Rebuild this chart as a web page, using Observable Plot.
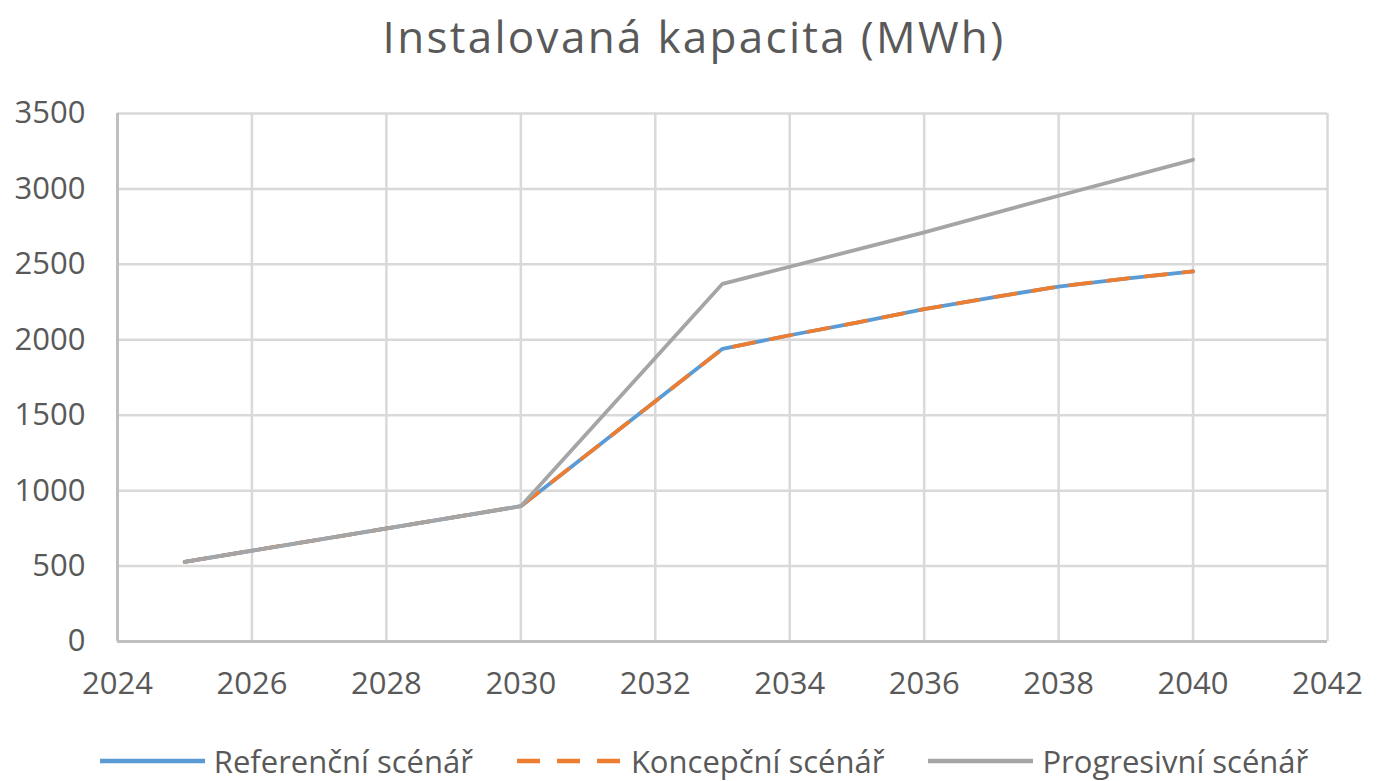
<!DOCTYPE html>
<html>
<head>
<meta charset="utf-8">
<script src="https://cdn.jsdelivr.net/npm/d3@7"></script>
<script src="https://cdn.jsdelivr.net/npm/@observablehq/plot@0.6"></script>
<style>
  body { margin: 0; background: #fff; font-family: "Open Sans", sans-serif; }
  #wrap { width: 1378px; height: 781px; overflow: hidden; position: relative; }
  #title { height: 72px; line-height: 72px; text-align: center; font-size: 44px; letter-spacing: 2.3px; color: #595959; padding-left: 10px; }
  #legend { display: flex; justify-content: center; align-items: center; gap: 0; height: 78px; padding-left: 30px; box-sizing: border-box; padding-top: 38px; }
  .item { display: flex; align-items: center; margin: 0 22px; }
  .item span { font-size: 31px; color: #595959; margin-left: 9px; line-height: 34px; }
</style>
</head>
<body>
<div id="wrap">
  <div id="title">Instalovaná kapacita (MWh)</div>
  <div id="chart"></div>
  <div id="legend"></div>
</div>
<script>
const yearsRef = [2025, 2030, 2033, 2034, 2035, 2036, 2037, 2038, 2039, 2040];
const referencni = [528, 897, 1940, 2030, 2114, 2203, 2280, 2353, 2406, 2453];
const koncepcni = [528, 897, 1940, 2030, 2114, 2203, 2280, 2353, 2406, 2453];
const yearsPro = [2025, 2030, 2033, 2034, 2036, 2038, 2040];
const progresivni = [528, 897, 2371, 2484, 2712, 2955, 3193];
const seriesNames = ["Referenční scénář", "Koncepční scénář", "Progresivní scénář"];
const seriesColors = ["#5B9BD5", "#ED7D31", "#A5A5A5"];
const xTicks = [2024, 2026, 2028, 2030, 2032, 2034, 2036, 2038, 2040, 2042];
const yTicks = [0, 500, 1000, 1500, 2000, 2500, 3000, 3500];

const toRows = (yrs, vals, name) => yrs.map((y, i) => ({year: y, value: vals[i], series: name}));
const refRows = toRows(yearsRef, referencni, seriesNames[0]);
const konRows = toRows(yearsRef, koncepcni, seriesNames[1]);
const proRows = toRows(yearsPro, progresivni, seriesNames[2]);

const chart = Plot.plot({
  width: 1378,
  height: 631,
  marginTop: 41,
  marginBottom: 62,
  marginLeft: 117,
  marginRight: 51,
  style: { fontFamily: "Open Sans, sans-serif", fontSize: "31px", color: "#595959", background: "#fff" },
  x: { domain: [2024, 2042], ticks: xTicks, tickFormat: d => String(d), label: null },
  y: { domain: [0, 3500], ticks: yTicks, tickFormat: d => String(d), label: null },
  marks: [
    Plot.gridX(xTicks, { stroke: "#d9d9d9", strokeOpacity: 1, strokeWidth: 2.5 }),
    Plot.gridY(yTicks, { stroke: "#d9d9d9", strokeOpacity: 1, strokeWidth: 2.5 }),
    Plot.ruleY([0], { stroke: "#bfbfbf", strokeWidth: 3 }),
    Plot.ruleX([2024], { stroke: "#bfbfbf", strokeWidth: 3 }),
    Plot.axisX(xTicks, { tickSize: 0, tickPadding: 30, tickFormat: d => String(d), fill: "#595959", label: null }),
    Plot.axisY(yTicks, { tickSize: 0, tickPadding: 32, tickFormat: d => String(d), fill: "#595959", label: null }),
    Plot.line(refRows, { x: "year", y: "value", stroke: seriesColors[0], strokeWidth: 3.8 }),
    Plot.line(konRows, { x: "year", y: "value", stroke: seriesColors[1], strokeWidth: 3.8, strokeDasharray: "21,17" }),
    Plot.line(proRows, { x: "year", y: "value", stroke: seriesColors[2], strokeWidth: 3.8 })
  ]
});
document.getElementById("chart").appendChild(chart);

const legend = document.getElementById("legend");
seriesNames.forEach((name, i) => {
  const item = document.createElement("div");
  item.className = "item";
  const dash = i === 1 ? 'stroke-dasharray="23,17"' : "";
  item.innerHTML = `<svg width="105" height="10"><line x1="0" y1="5" x2="105" y2="5" stroke="${seriesColors[i]}" stroke-width="4.5" ${dash}/></svg><span>${name}</span>`;
  legend.appendChild(item);
});
</script>
</body>
</html>
